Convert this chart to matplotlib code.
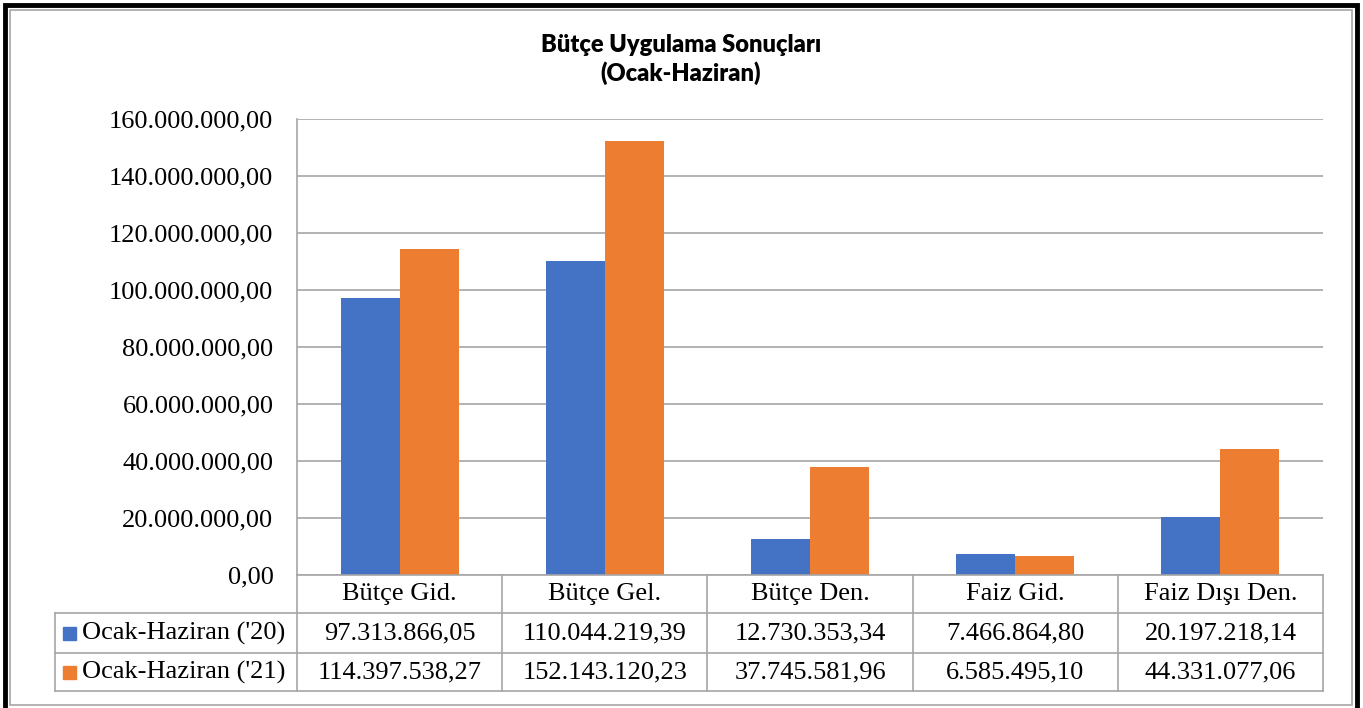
import numpy as np
import matplotlib
matplotlib.use('Agg')
import matplotlib.pyplot as plt
from matplotlib.lines import Line2D
from matplotlib.patches import Rectangle

# Data #
categories = ['Bütçe Gid.', 'Bütçe Gel.', 'Bütçe Den.', 'Faiz Gid.', 'Faiz Dışı Den.']
series_names = ["Ocak-Haziran ('20)", "Ocak-Haziran ('21)"]
values_20 = [97313866.05, 110044219.39, 12730353.34, 7466864.80, 20197218.14]
values_21 = [114397538.27, 152143120.23, 37745581.96, 6585495.10, 44331077.06]
yticks = [0, 20e6, 40e6, 60e6, 80e6, 100e6, 120e6, 140e6, 160e6]
colors = ['#4472C4', '#ED7D31']

def tr_fmt(v):
    # Turkish number format: 1.234.567,89
    s = '{:,.2f}'.format(v)
    return s.replace(',', '#').replace('.', ',').replace('#', '.')

W, H = 1363, 708
fig = plt.figure(figsize=(W/100, H/100), dpi=100)

def fx(x):
    return x / W
def fy(y):
    return 1 - y / H

serif = 'Liberation Serif'
fs = 19
grid_c = '#a6a6a6'

# Plot area #
x0, x1, ytop, ybase = 297, 1323, 119, 575
ax = fig.add_axes([fx(x0), fy(ybase), (x1-x0)/W, (ybase-ytop)/H])
x = np.arange(len(categories))
bw = 0.288
ax.bar(x - bw/2, values_20, bw, color=colors[0], zorder=3)
ax.bar(x + bw/2, values_21, bw, color=colors[1], zorder=3)
ax.set_xlim(-0.5, len(categories) - 0.5)
ax.set_ylim(0, 160e6)
ax.set_yticks(yticks)
ax.set_yticklabels([tr_fmt(v) for v in yticks], fontfamily=serif, fontsize=fs)
ax.tick_params(axis='y', length=0, pad=17)
ax.set_xticks([])
ax.yaxis.grid(True, color=grid_c, linewidth=1.2, zorder=0)
for s in ['top', 'right', 'bottom']:
    ax.spines[s].set_visible(False)
ax.spines['left'].set_color(grid_c)
ax.spines['left'].set_linewidth(1.2)

# Data table #
col_w = (x1 - x0) / len(categories)
leg_x0 = 55
rows_y = [575, 613, 653, 691]
def hline(xa, xb, y):
    fig.add_artist(Line2D([fx(xa), fx(xb)], [fy(y), fy(y)], color=grid_c, lw=1.2))
def vline(xp, ya, yb):
    fig.add_artist(Line2D([fx(xp), fx(xp)], [fy(ya), fy(yb)], color=grid_c, lw=1.2))

hline(x0, x1, rows_y[0])
for y in rows_y[1:]:
    hline(leg_x0, x1, y)
vline(leg_x0, rows_y[1], rows_y[3])
for i in range(len(categories) + 1):
    vline(x0 + i*col_w, rows_y[0], rows_y[3])

for i, c in enumerate(categories):
    fig.text(fx(x0 + (i + 0.5)*col_w), fy((rows_y[0] + rows_y[1])/2), c,
             ha='center', va='center', fontfamily=serif, fontsize=fs)
for r, vals in enumerate([values_20, values_21]):
    yc = (rows_y[r+1] + rows_y[r+2]) / 2
    fig.add_artist(Rectangle((fx(63), fy(yc + 7)), 13/W, 13/H, color=colors[r]))
    fig.text(fx(82), fy(yc), series_names[r], ha='left', va='center',
             fontfamily=serif, fontsize=fs)
    for i, v in enumerate(vals):
        fig.text(fx(x0 + (i + 0.5)*col_w), fy(yc), tr_fmt(v),
                 ha='center', va='center', fontfamily=serif, fontsize=fs)

# Title #
fig.text(fx(681), fy(45), 'Bütçe Uygulama Sonuçları', ha='center', va='center',
         fontfamily='Lato', fontweight='heavy', fontsize=17)
fig.text(fx(681), fy(73), '(Ocak-Haziran)', ha='center', va='center',
         fontfamily='Lato', fontweight='heavy', fontsize=17)

# Frame #
fig.add_artist(Rectangle((fx(10), fy(705)), 1342/W, 695/H, fill=False,
                         edgecolor='#a6a6a6', lw=1.2))
fig.add_artist(Rectangle((fx(5), fy(720)), 1352/W, 715/H, fill=False,
                         edgecolor='black', lw=3.5))

fig.savefig('out.png', dpi=100)
